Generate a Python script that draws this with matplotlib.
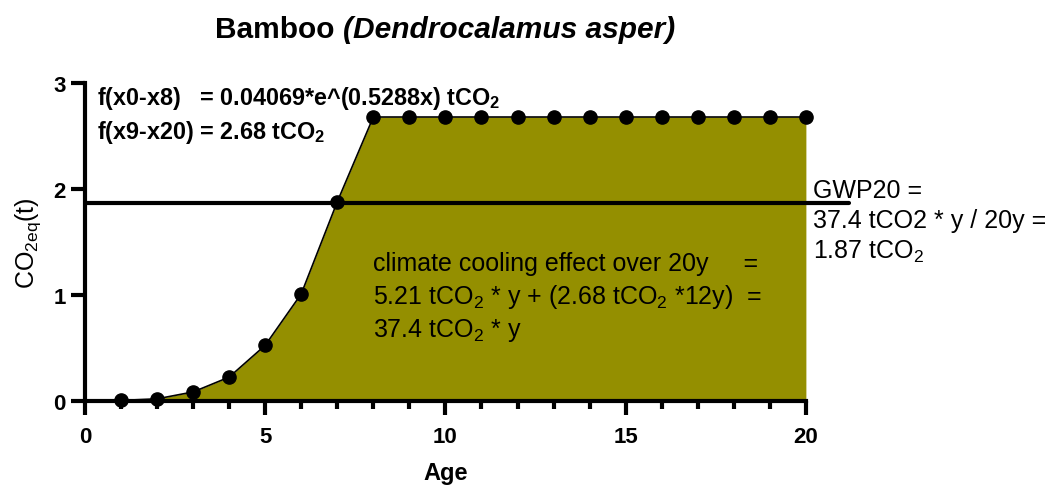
"""Bamboo CO2eq accumulation curve with GWP20 reference line."""

import matplotlib
matplotlib.use("Agg")
import matplotlib.pyplot as plt
from matplotlib.ticker import MultipleLocator

plt.rcParams["font.family"] = ["Liberation Sans", "DejaVu Sans"]
plt.rcParams["mathtext.fontset"] = "custom"
plt.rcParams["mathtext.rm"] = "Liberation Sans"
plt.rcParams["mathtext.bf"] = "Liberation Sans:bold"

# data
age = [1, 2, 3, 4, 5, 6, 7, 8, 9, 10, 11, 12, 13, 14, 15, 16, 17, 18, 19, 20]
co2eq = [0.005, 0.02, 0.085, 0.225, 0.525, 1.01, 1.88, 2.68, 2.68, 2.68,
         2.68, 2.68, 2.68, 2.68, 2.68, 2.68, 2.68, 2.68, 2.68, 2.68]
gwp20 = 1.87
gwp_span = [0, 21.2]

fig = plt.figure(figsize=(10.54, 4.89), dpi=100)
ax = fig.add_axes([0.0806, 0.178, 0.684, 0.650])

ax.fill_between(age, co2eq, 0, color="#948f00", linewidth=0, zorder=1)
ax.plot(age, co2eq, color="black", lw=1.2, marker="o", markersize=9.5, zorder=3,
        clip_on=False)
ax.plot(gwp_span, [gwp20, gwp20], color="black", lw=3, solid_capstyle="round",
        zorder=2, clip_on=False)

ax.set_xlim(0, 20)
ax.set_ylim(0, 3)
ax.xaxis.set_major_locator(MultipleLocator(5))
ax.xaxis.set_minor_locator(MultipleLocator(1))
ax.yaxis.set_major_locator(MultipleLocator(1))

for s in ["top", "right"]:
    ax.spines[s].set_visible(False)
for s in ["left", "bottom"]:
    ax.spines[s].set_linewidth(3)
ax.tick_params(which="major", length=10, width=3, labelsize=16)
ax.tick_params(axis="x", which="major", pad=8)
ax.tick_params(axis="y", which="major", pad=4)
ax.tick_params(which="minor", length=6, width=3)
for lab in ax.get_xticklabels() + ax.get_yticklabels():
    lab.set_fontweight("bold")

ax.set_xlabel("Age", fontsize=17, fontweight="bold", labelpad=10)
ax.set_ylabel(r"CO$_{\mathregular{2eq}}$(t)", fontsize=18, labelpad=7)

# title: bold roman part followed by bold italic species name
t1 = fig.text(215 / 1054, 1 - 30 / 489, "Bamboo ", fontsize=21.5,
              fontweight="bold", va="center", ha="left")
ax.annotate("(Dendrocalamus asper)", xy=(1, 0), xycoords=t1, va="bottom",
            ha="left", fontsize=21.5, fontweight="bold", style="italic",
            annotation_clip=False)

# equation labels
ax.text(0.0166, 0.956, r"f(x0-x8)   = 0.04069*e^(0.5288x) tCO$_\mathbf{2}$",
        transform=ax.transAxes, fontsize=16.8, fontweight="bold", va="center")
ax.text(0.0166, 0.849, r"f(x9-x20) = 2.68 tCO$_\mathbf{2}$",
        transform=ax.transAxes, fontsize=16.8, fontweight="bold", va="center")

ax.text(0.399, 0.327,
        "climate cooling effect over 20y     =\n"
        r"5.21 tCO$_2$ * y + (2.68 tCO$_2$ *12y)  =" "\n"
        r"37.4 tCO$_2$ * y",
        transform=ax.transAxes, fontsize=18, va="center", linespacing=1.3)

ax.text(1.01, 0.566,
        "GWP20 =\n37.4 tCO2 * y / 20y =\n" r"1.87 tCO$_2$",
        transform=ax.transAxes, fontsize=18, va="center", linespacing=1.3)

fig.savefig("out.png", dpi=100)
